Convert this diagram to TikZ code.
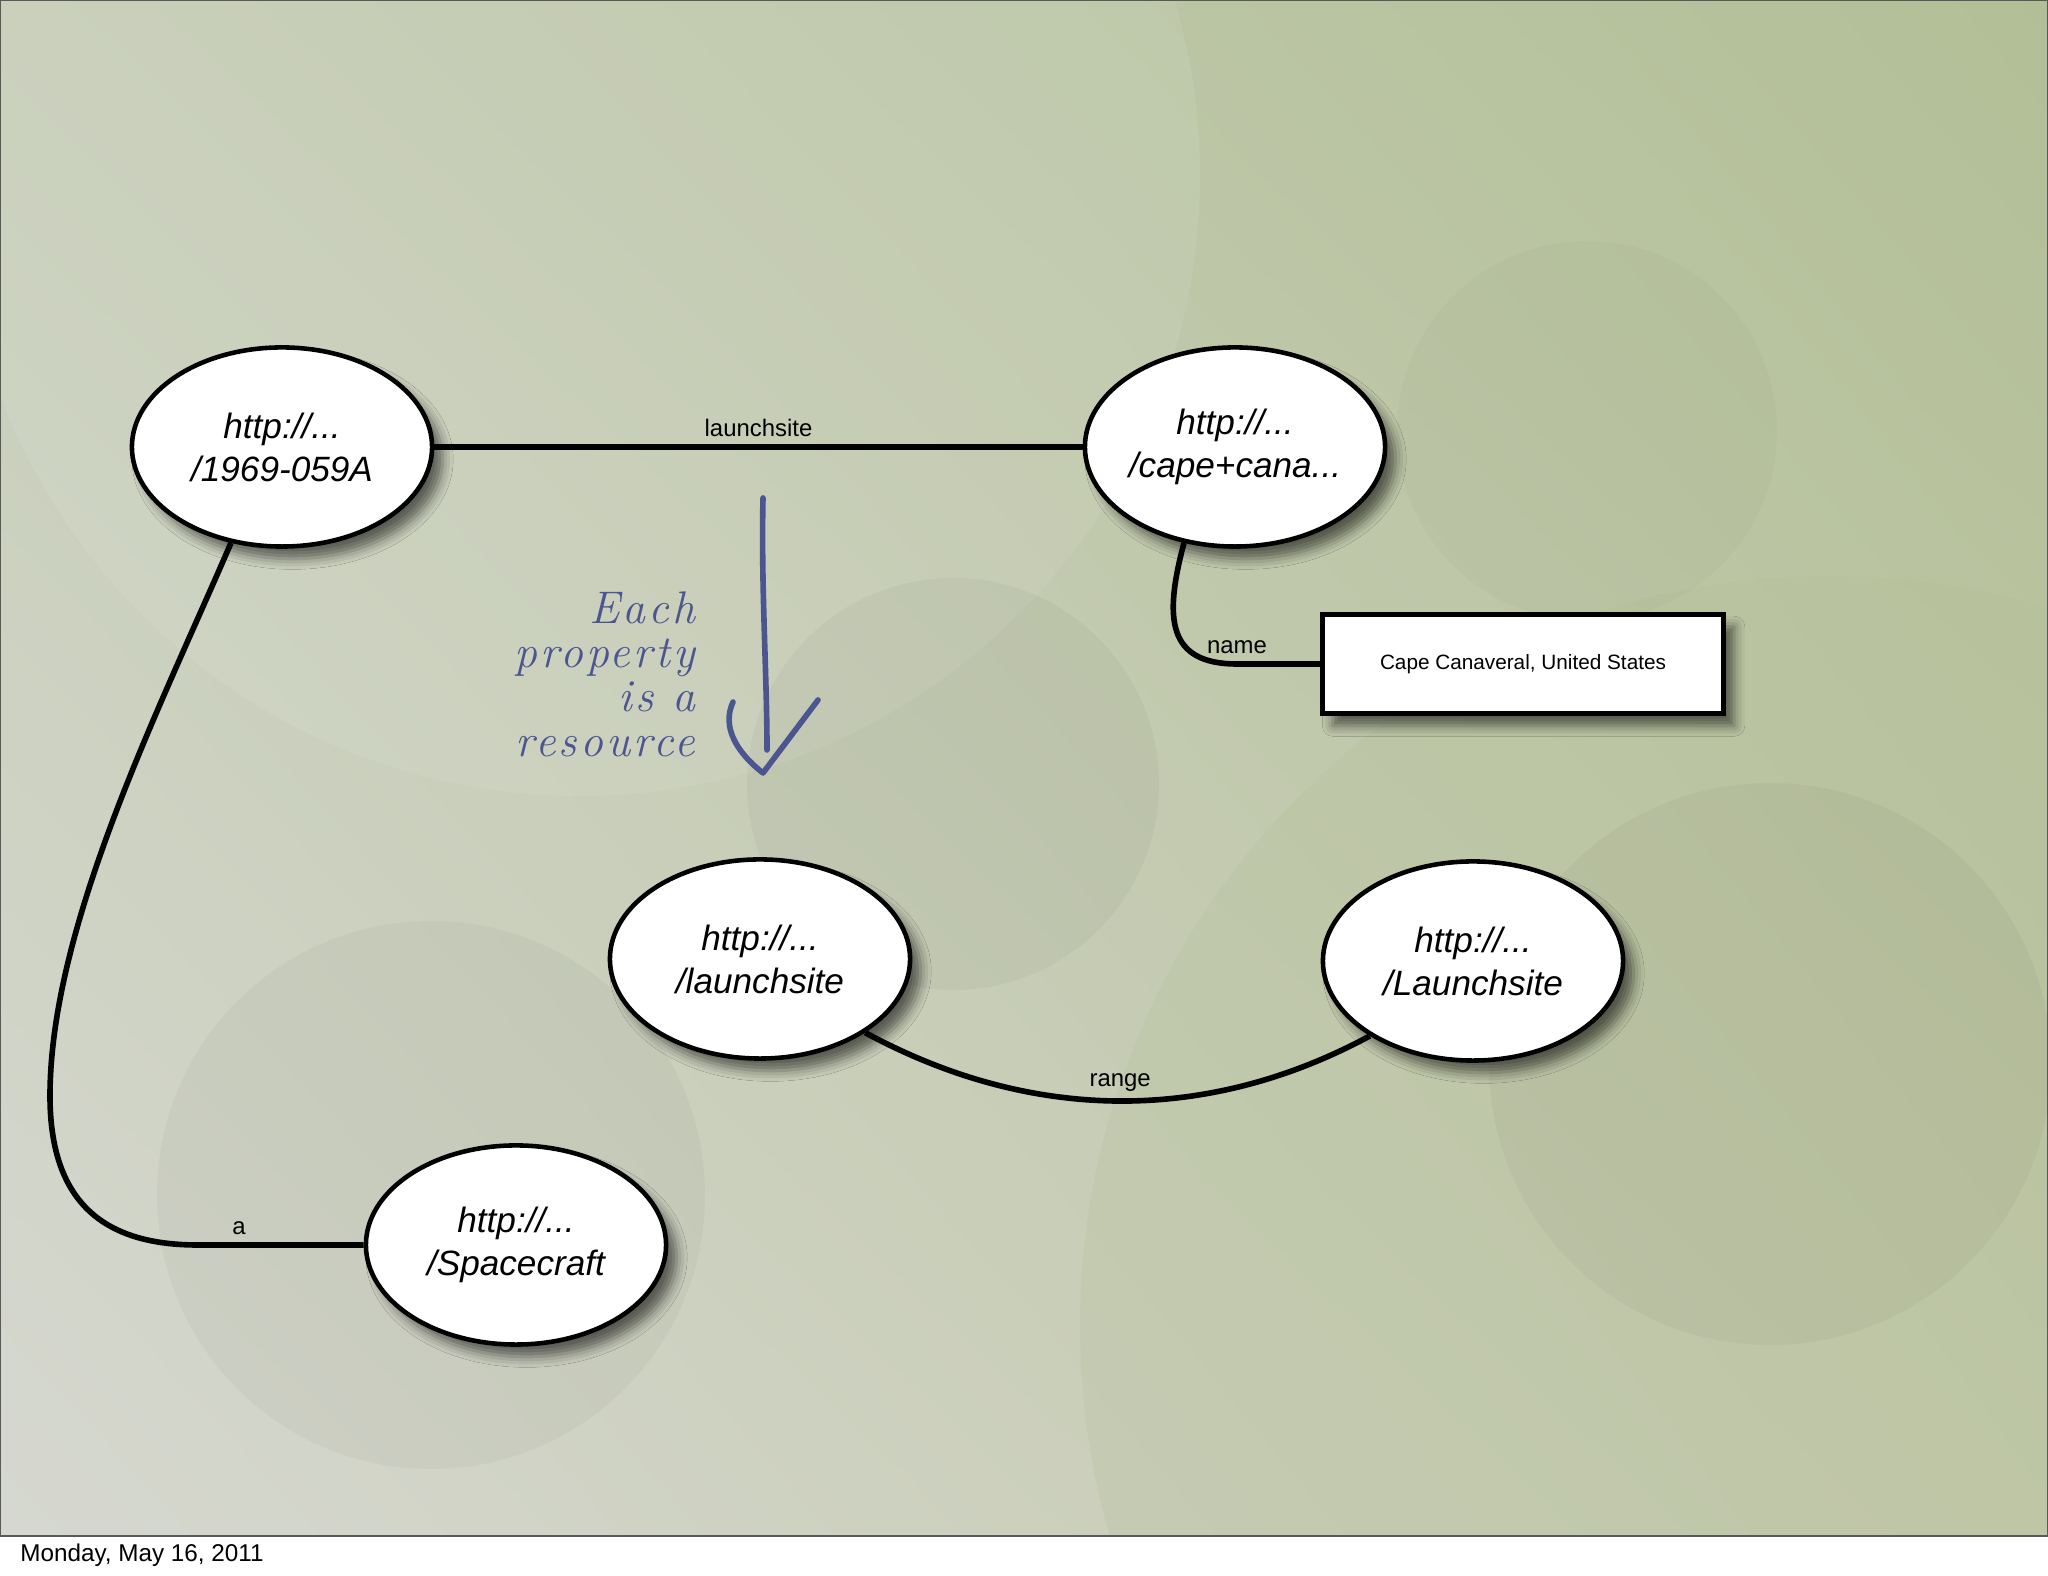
\documentclass[tikz,border=0pt]{standalone}
\usepackage{fontspec}
\setmainfont{Liberation Sans}
\newfontfamily\handfont[LetterSpace=7]{Latin Modern Roman}
\usepackage{tikz}
\usetikzlibrary{shapes.geometric, shadows, shadows.blur, shadings, calc}
\definecolor{inkblue}{RGB}{75,85,144}
\definecolor{bgtl}{RGB}{198,205,183}
\definecolor{bgtr}{RGB}{178,191,150}
\definecolor{bgbl}{RGB}{214,216,208}
\definecolor{bgbr}{RGB}{194,200,170}
\tikzstyle{link}=[line width=1.6pt, color=black]
\tikzstyle{hand}=[line width=1.6pt, color=inkblue, line cap=round, line join=round]

\begin{document}
\begin{tikzpicture}[x=0.01cm, y=0.01cm,
  resource/.style={ellipse, draw=black, line width=1.3pt, fill=white,
                   minimum width=3cm, minimum height=1.99cm, inner sep=0pt,
                   align=center, font=\fontsize{10}{12.2}\selectfont\itshape,
                   blur shadow={shadow xshift=3pt, shadow yshift=-3.5pt,
                                shadow blur radius=3pt, shadow opacity=55}},
  literal/.style={rectangle, draw=black, line width=1.4pt, fill=white,
                  minimum width=4.01cm, minimum height=0.99cm,
                  font=\fontsize{5.9}{7}\selectfont,
                  blur shadow={shadow xshift=3pt, shadow yshift=-3.5pt,
                               shadow blur radius=3pt, shadow opacity=55}},
  prop/.style={font=\fontsize{6.8}{8}\selectfont, inner sep=2pt}
]
\useasboundingbox (0,0) rectangle (2048,1576);
\fill[white] (0,0) rectangle (2048,1576);
\shade[upper left=bgtl, upper right=bgtr, lower left=bgbl, lower right=bgbr]
  (0,40) rectangle (2048,1576);
\begin{scope}
  \clip (0,40) rectangle (2048,1576);
  \fill[white, opacity=0.07] (580,1400) circle (620);
  \fill[bgtr, opacity=0.22] (1830,250) circle (750);
  \fill[black, opacity=0.03] (953,792) circle (206);
  \fill[black, opacity=0.03] (431,381) circle (274);
  \fill[black, opacity=0.03] (1770,512) circle (281);
  \fill[black, opacity=0.02] (1587,1145) circle (190);
\end{scope}
\draw[black!65, line width=0.6pt] (0,40) rectangle (2048,1576);

\node[resource] (mission) at (282,1129) {http://...\\/1969-059A};
\node[resource] (cape) at (1235,1129) {http://...\\/cape+cana...};
\node[resource] (launchprop) at (760,617) {http://...\\/launchsite};
\node[resource] (launchclass) at (1473,615) {http://...\\/Launchsite};
\node[resource] (craft) at (516,331) {http://...\\/Spacecraft};
\node[literal] (capename) at (1523,912) {Cape Canaveral, United States};
\coordinate (abend) at (50,480);

\node[anchor=east, align=right, text=inkblue,
      font=\handfont\fontsize{13}{12.6}\selectfont\itshape] (note) at (708,902)
      {Each\\property\\is a\\resource};
\draw[hand] (763,1078) .. controls (761,990) and (767,900) .. (767,826);
\draw[hand] (733,874) .. controls (722,850) and (735,825) .. (763,803) -- (818,876);

\draw[link] (mission) -- node[prop, above] {launchsite} (cape);
\draw[link] (cape.242) .. controls +(-20,-75) and +(-70,0) .. ($(capename.west)+(-83,0)$)
  node[prop, above] {name} -- (capename.west);
\draw[link] (mission.242) .. controls +(-71,-165) and +(0,170) .. (abend)
  .. controls +(0,-110) and +(-90,0) .. ($(craft.west)+(-166,0)$)
  -- node[prop, above, pos=0.25] {a} (craft.west);
\draw[link] (launchprop.325) .. controls +(168,-91) and +(-161,-87) .. (launchclass.216)
  node[prop, above, pos=0.5] {range};

\node[anchor=west, font=\fontsize{6.9}{8}\selectfont] (date) at (8,21) {Monday, May 16, 2011};
\end{tikzpicture}
\end{document}
